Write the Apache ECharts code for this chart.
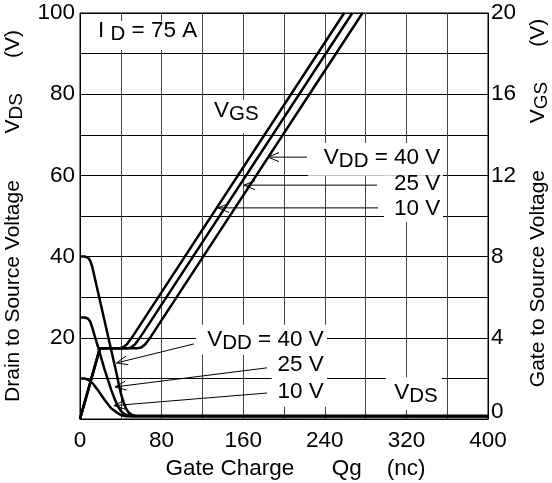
<!DOCTYPE html>
<html><head><meta charset="utf-8">
<script src="https://cdn.jsdelivr.net/npm/echarts@6/dist/echarts.min.js"></script>
<style>html,body{margin:0;padding:0;background:#fff}#c{width:552px;height:483px}</style>
</head><body><div id="c"></div>
<script>
// ---- data (gate charge in nC) ----
const xTickLabels = [0, 80, 160, 240, 320, 400];
const leftTickLabels = [20, 40, 60, 80, 100];
const rightTickLabels = [0, 4, 8, 12, 16, 20];
// Gate-to-source voltage (right axis, V)
const vgs10 = [[0,0],[19.5,3.48],[38,3.48],[42,3.52],[46,3.68],[50,3.95],[55,4.33],[259,20]];
const vgs25 = [[0,0],[19.5,3.48],[46,3.48],[50,3.52],[54,3.68],[58,3.95],[63,4.33],[267,20]];
const vgs40 = [[0,0],[19.5,3.48],[56,3.48],[60,3.52],[64,3.68],[68,3.95],[73,4.33],[277,20]];
// Drain-to-source voltage (left axis, V)
const vds40 = [[0,40],[5,40],[8,39.7],[10,39],[12,37.5],[36,11],[38,8.6],[40,6.4],[42,4.6],[44,3.2],[46,2.2],[48,1.5],[51,1.0],[55,0.8],[400,0.8]];
const vds25 = [[0,25],[5,25],[8,24.7],[10,24],[12,22.5],[17.6,17.8],[24.2,12.1],[30.7,7.1],[34,4.9],[37.3,3.1],[40,2.0],[43.8,1.2],[48,0.8],[52,0.7],[400,0.7]];
const vds10 = [[0,10],[4,10],[7,9.8],[10,9.3],[13,8.6],[17.6,7.1],[24.2,4.7],[30.7,2.6],[37.3,1.4],[41,0.9],[45,0.7],[400,0.6]];

const FONT = 'Liberation Sans';
const rich = {
  m: {fontFamily: FONT, fontSize: 22.5, lineHeight: 28, fill: '#000', color: '#000'},
  s: {fontFamily: FONT, fontSize: 20.5, lineHeight: 14, verticalAlign: 'bottom', fill: '#000', color: '#000'},
  n: {fontFamily: FONT, fontSize: 21, lineHeight: 26, color: '#000'},
  ns: {fontFamily: FONT, fontSize: 19, lineHeight: 13, verticalAlign: 'bottom', color: '#000'},
  b: {fontFamily: FONT, fontSize: 22.5, color: '#000'},
  z: {fontFamily: FONT, fontSize: 22.5, color: '#000', padding: [0, 0, 14, 0]}
};

const curve = (data, yi) => ({
  type: 'line', data: data, yAxisIndex: yi, showSymbol: false, smooth: false,
  lineStyle: {color: '#000', width: 2.5}, z: 3, silent: true
});

const option = {
  animation: false,
  backgroundColor: '#fff',
  textStyle: {fontFamily: FONT},
  grid: {left: 80, right: 64, top: 13, bottom: 64, containLabel: false, outerBoundsMode: 'none',
    show: true, borderColor: '#000', borderWidth: 1, backgroundColor: 'transparent'},
  xAxis: {
    type: 'value', min: 0, max: 400, interval: 40,
    axisLine: {lineStyle: {color: '#000', width: 1}}, axisTick: {show: false},
    axisLabel: {color: '#000', fontSize: 22.5, margin: 10, fontFamily: FONT,
      formatter: v => xTickLabels.indexOf(v) >= 0 ? String(v) : ''},
    splitLine: {lineStyle: {color: '#444', width: 1}},
    name: '{b|Gate Charge      Qg    (nc)}', nameLocation: 'middle', nameGap: 30,
    nameTextStyle: {rich: rich, padding: [0, 0, 0, 23]}
  },
  yAxis: [{
    type: 'value', min: 0, max: 100, interval: 10, position: 'left',
    axisLine: {lineStyle: {color: '#000', width: 1}}, axisTick: {show: false},
    axisLabel: {color: '#000', fontSize: 22.5, margin: 5, fontFamily: FONT,
      formatter: v => leftTickLabels.indexOf(v) >= 0 ? String(v) : ''},
    splitLine: {lineStyle: {color: '#000', width: 1}},
    name: '{n|Drain to Source Voltage        V}{ns|DS}{n|      (V)}', nameLocation: 'middle', nameGap: 50,
    nameTextStyle: {rich: rich}
  }, {
    type: 'value', min: 0, max: 20, interval: 2, position: 'right',
    axisLine: {show: true, lineStyle: {color: '#000', width: 1}}, axisTick: {show: false},
    axisLabel: {color: '#000', fontSize: 22.5, margin: 3, fontFamily: FONT, rich: rich,
      formatter: v => rightTickLabels.indexOf(v) >= 0 ? (v === 0 ? '{z|0}' : String(v)) : ''},
    splitLine: {show: false},
    name: '{n|Gate to Source Voltage        V}{ns|GS}{n|      (V)}', nameLocation: 'middle', nameGap: 37,
    nameRotate: 90,
    nameTextStyle: {rich: rich, padding: [0, 0, 0, 26]}
  }],
  series: [
    curve(vgs10, 1), curve(vgs25, 1), curve(vgs40, 1),
    curve(vds40, 0), curve(vds25, 0), curve(vds10, 0)
  ]
};

const chart = echarts.init(document.getElementById('c'), null, {renderer: 'canvas'});
chart.setOption(option);

// annotations, placed in axis (left-axis) data units
const masks = [
  [9.8, 98.0, 119.0, 90.9],
  [127.5, 78.6, 181.4, 70.4],
  [223.5, 68.0, 355.9, 59.9],
  [298.0, 59.9, 355.9, 48.5],
  [113.7, 23.2, 242.2, 15.8],
  [188.0, 15.8, 242.2, 3.0],
  [300.0, 10.3, 354.9, 2.2]
];
const arrows = [
  [184.3, 64.5, 222.5, 64.5],
  [160.8, 57.6, 291.2, 57.6],
  [135.3, 52.0, 292.2, 52.0],
  [35.8, 13.8, 111.8, 18.5],
  [34.3, 7.9, 183.3, 12.6],
  [33.3, 3.3, 183.3, 6.4]
];
const notes = [
  {x: 17.6, y: 95.7, a: 'left', t: '{m|I }{s|D}{m| = 75 A}'},
  {x: 131.4, y: 76.0, a: 'left', t: '{m|V}{s|GS}'},
  {x: 353.3, y: 64.4, a: 'right', t: '{m|V}{s|DD}{m| = 40 V}'},
  {x: 353.3, y: 58.0, a: 'right', t: '{m|25 V}'},
  {x: 353.3, y: 51.8, a: 'right', t: '{m|10 V}'},
  {x: 239.0, y: 19.5, a: 'right', t: '{m|V}{s|DD}{m| = 40 V}'},
  {x: 239.0, y: 13.3, a: 'right', t: '{m|25 V}'},
  {x: 239.0, y: 6.8, a: 'right', t: '{m|10 V}'},
  {x: 308.0, y: 6.5, a: 'left', t: '{m|V}{s|DS}'}
];
const P = (x, y) => chart.convertToPixel({xAxisIndex: 0, yAxisIndex: 0}, [x, y]);
const g = [];
masks.forEach(m => {
  const a = P(m[0], m[1]), b = P(m[2], m[3]);
  g.push({type: 'rect', z: 1, silent: true,
    shape: {x: Math.min(a[0], b[0]), y: Math.min(a[1], b[1]), width: Math.abs(b[0] - a[0]), height: Math.abs(b[1] - a[1])},
    style: {fill: '#fff'}});
});
arrows.forEach(ar => {
  const t = P(ar[0], ar[1]), s = P(ar[2], ar[3]);
  const dx = s[0] - t[0], dy = s[1] - t[1], L = Math.hypot(dx, dy), ux = dx / L, uy = dy / L;
  const hl = 11, hw = 4.5;
  g.push({type: 'line', z: 5, silent: true, shape: {x1: s[0], y1: s[1], x2: t[0], y2: t[1]}, style: {stroke: '#000', lineWidth: 1}});
  g.push({type: 'polyline', z: 5, silent: true,
    shape: {points: [[t[0] + ux * hl - uy * hw, t[1] + uy * hl + ux * hw], [t[0], t[1]], [t[0] + ux * hl + uy * hw, t[1] + uy * hl - ux * hw]]},
    style: {stroke: '#000', lineWidth: 1, fill: null}});
});
notes.forEach(n => {
  const p = P(n.x, n.y);
  g.push({type: 'text', z: 5, silent: true, x: p[0], y: p[1],
    style: {text: n.t, rich: rich, align: n.a, verticalAlign: 'middle', fill: '#000', fontFamily: FONT, fontSize: 22.5}});
});
chart.setOption({graphic: g});
</script>
</body></html>
